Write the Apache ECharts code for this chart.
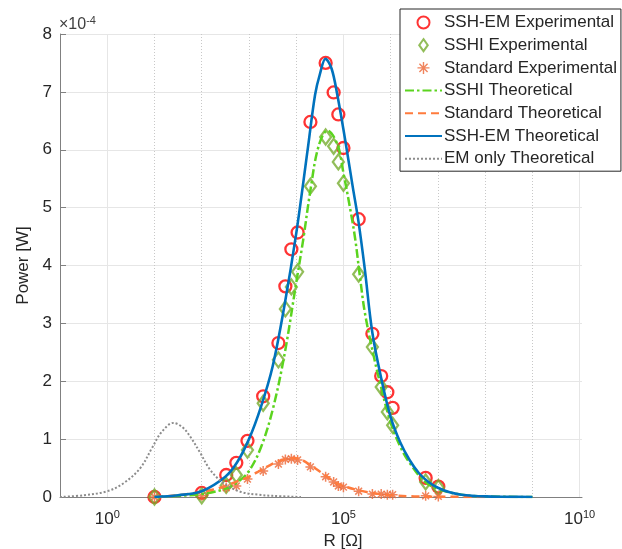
<!DOCTYPE html>
<html><head><meta charset="utf-8">
<script src="https://cdn.jsdelivr.net/npm/echarts@6/dist/echarts.min.js"></script>
<style>html,body{margin:0;padding:0;background:#fff}#c{width:622px;height:549px}</style>
</head><body><div id="c"></div>
<script>
// Power values are in units of 1e-4 W (axis shows ×10^-4)
const rExp = [1.0e1, 1.0e2, 3.3e2, 5.4e2, 9.3e2, 2.0e3, 4.2e3, 5.9e3, 7.9e3, 1.07e4, 2.0e4, 4.2e4, 6.2e4, 7.8e4, 1.0e5, 2.1e5, 4.1e5, 6.3e5, 8.5e5, 1.1e6, 5.5e6, 1.02e7];
const pSshEmExp = [0.00, 0.07, 0.38, 0.59, 0.97, 1.74, 2.66, 3.64, 4.28, 4.57, 6.48, 7.50, 6.99, 6.61, 6.03, 4.80, 2.82, 2.09, 1.81, 1.54, 0.33, 0.18];
const pSshiExp = [0.00, 0.02, 0.20, 0.38, 0.81, 1.62, 2.37, 3.25, 3.63, 3.89, 5.37, 6.22, 6.06, 5.79, 5.42, 3.85, 2.59, 1.90, 1.47, 1.24, 0.26, 0.16];
const pStdExp = [0.00, 0.02, 0.16, 0.19, 0.31, 0.45, 0.57, 0.65, 0.66, 0.64, 0.52, 0.35, 0.26, 0.19, 0.17, 0.10, 0.05, 0.05, 0.04, 0.04, 0.02, 0.01];

const rSshiTh = [1e1, 3.16e1, 1e2, 3.16e2, 5.62e2, 1e3, 1.78e3, 3.16e3, 5.62e3, 1e4, 1.41e4, 2.0e4, 2.95e4, 4.57e4, 7.41e4, 1e5, 1.41e5, 1.78e5, 2.24e5, 2.82e5, 4.07e5, 6.03e5, 1e6, 1.58e6, 2.29e6, 4.9e6, 1e7, 3.16e7, 1e8, 1e9];
const pSshiTh = [0.00, 0.02, 0.05, 0.14, 0.25, 0.45, 0.85, 1.50, 2.45, 3.70, 4.45, 5.30, 6.05, 6.33, 6.10, 5.60, 4.95, 4.45, 3.80, 3.20, 2.55, 1.95, 1.28, 0.88, 0.64, 0.29, 0.14, 0.04, 0.01, 0.00];

const rStdTh = [1e1, 3.16e1, 1e2, 1.78e2, 3.16e2, 5.62e2, 1e3, 1.58e3, 2.51e3, 3.98e3, 6.31e3, 1e4, 1.41e4, 2.0e4, 3.16e4, 4.57e4, 6.31e4, 1e5, 2.24e5, 5.01e5, 1e6, 3.16e6, 1e7, 1e8];
const pStdTh = [0.00, 0.03, 0.09, 0.13, 0.19, 0.27, 0.35, 0.44, 0.53, 0.61, 0.66, 0.67, 0.63, 0.55, 0.44, 0.35, 0.26, 0.19, 0.11, 0.06, 0.03, 0.01, 0.005, 0.00];

const rSshEmTh = [1e1, 3.16e1, 1e2, 3.16e2, 5.62e2, 1e3, 1.78e3, 3.16e3, 5.62e3, 1e4, 1.78e4, 2.51e4, 3.16e4, 4.17e4, 5.62e4, 7.41e4, 1e5, 1.26e5, 1.58e5, 2.09e5, 2.82e5, 4.07e5, 6.31e5, 1e6, 1.58e6, 2.51e6, 3.98e6, 6.31e6, 1e7, 1.78e7, 3.16e7, 1e8, 3.16e8, 1e9];
const pSshEmTh = [0.00, 0.03, 0.10, 0.35, 0.60, 1.00, 1.55, 2.25, 3.30, 4.55, 6.05, 6.95, 7.30, 7.57, 7.40, 6.95, 6.35, 5.85, 5.35, 4.75, 3.95, 2.85, 2.05, 1.38, 0.95, 0.64, 0.41, 0.26, 0.16, 0.08, 0.04, 0.01, 0.003, 0.00];

const rEmTh = [1e-1, 3.16e-1, 1e0, 2.24e0, 5.01e0, 8.91e0, 1.41e1, 2.51e1, 3.98e1, 5.75e1, 9.33e1, 1.51e2, 2.88e2, 6.61e2, 1.58e3, 3.16e3, 1.26e4];
const pEmTh = [0.00, 0.03, 0.10, 0.24, 0.50, 0.85, 1.12, 1.28, 1.20, 1.04, 0.76, 0.47, 0.24, 0.09, 0.04, 0.02, 0.00];

const xMajorTicks = [1e0, 1e5, 1e10];
const xMinorGrid = [1e1, 1e2, 1e3, 1e4, 1e6, 1e7, 1e8, 1e9];

const F = '"Liberation Sans", Arial, Helvetica, sans-serif';
const TXT = '#262626';
const AX = '#808080';
const pair = (xs, ys) => xs.map((x, i) => [x, ys[i]]);
const star = 'path://M5 0L5 10M0 5L10 5M1.6 1.6L8.4 8.4M8.4 1.6L1.6 8.4';
const diamond = 'path://M5 0L10 7L5 14L0 7Z';
const T = 'rgba(0,0,0,0)';
const SM = 0.35;

const chart = echarts.init(document.getElementById('c'), null, {renderer: 'canvas'});
chart.setOption({
  animation: false,
  backgroundColor: '#fff',
  textStyle: {fontFamily: F},
  grid: {left: 60, right: 40, top: 34, bottom: 52, containLabel: false, outerBoundsMode: 'none'},
  graphic: [{
    type: 'text', left: 59, top: 15,
    style: {text: '×10{s|-4}', fontFamily: F, fontSize: 16, fill: '#404040',
      rich: {s: {fontSize: 11, fontFamily: F, fill: '#404040', padding: [0, 0, 9, 0]}}}
  }],
  legend: {
    orient: 'vertical', left: 400, top: 9, padding: [5, 4, 4, 4],
    itemWidth: 37, itemHeight: 12, itemGap: 5.7, symbolKeepAspect: true,
    borderColor: '#262626', borderWidth: 1, backgroundColor: '#fff',
    textStyle: {fontSize: 17, color: TXT, fontFamily: F, padding: [0, 0, 0, -3]},
    data: [
      {name: 'SSH-EM Experimental'},
      {name: 'SSHI Experimental'},
      {name: 'Standard Experimental', itemStyle: {borderWidth: 1.4}},
      {name: 'SSHI Theoretical', itemStyle: {opacity: 0}},
      {name: 'Standard Theoretical', itemStyle: {opacity: 0}},
      {name: 'SSH-EM Theoretical', itemStyle: {opacity: 0}},
      {name: 'EM only Theoretical', itemStyle: {opacity: 0}}
    ]
  },
  xAxis: {
    type: 'log', logBase: 10, min: 0.1, max: 1.122e10,
    name: 'R [Ω]', nameLocation: 'middle', nameGap: 32,
    nameTextStyle: {fontSize: 17, color: TXT, fontFamily: F, padding: [0, 0, 0, 44]},
    axisLine: {show: true, lineStyle: {color: AX}},
    axisTick: {show: true, inside: true, length: 6, customValues: xMajorTicks, lineStyle: {color: AX}},
    axisLabel: {
      customValues: xMajorTicks, margin: 12, color: TXT, fontSize: 17, fontFamily: F,
      formatter: v => {
        const e = Math.round(Math.log10(v));
        if (e % 5 !== 0) return '';
        return '{b|10}{s|' + e + '}';
      },
      rich: {b: {fontSize: 17, color: TXT, fontFamily: F}, s: {fontSize: 11, color: TXT, fontFamily: F, padding: [0, 0, 9, 0]}}
    },
    splitLine: {show: false}
  },
  yAxis: {
    type: 'value', min: 0, max: 8, interval: 1,
    name: 'Power [W]', nameLocation: 'middle', nameGap: 28, nameRotate: 90,
    nameTextStyle: {fontSize: 17, color: TXT, fontFamily: F},
    axisLine: {show: true, lineStyle: {color: AX}},
    axisTick: {show: true, inside: true, length: 6, lineStyle: {color: AX}},
    axisLabel: {color: TXT, fontSize: 17, fontFamily: F, margin: 8, formatter: v => String(Math.round(v))},
    splitLine: {show: true, lineStyle: {color: '#e6e6e6', width: 1}}
  },
  series: [
    {
      name: 'SSH-EM Experimental', type: 'scatter', data: pair(rExp, pSshEmExp),
      symbol: 'circle', symbolSize: 12, z: 3,
      itemStyle: {color: T, borderColor: '#ff0000', borderWidth: 2.3},
      markLine: {
        silent: true, symbol: 'none', z: 1, animation: false,
        label: {show: false},
        data: xMinorGrid.map(v => ({xAxis: v, lineStyle: {color: '#c8c8c8', type: [1, 2], width: 1}}))
          .concat(xMajorTicks.map(v => ({xAxis: v, lineStyle: {color: '#e6e6e6', type: 'solid', width: 1}})))
      }
    },
    {
      name: 'SSHI Experimental', type: 'scatter', data: pair(rExp, pSshiExp),
      symbol: diamond, symbolSize: [11, 15], z: 3,
      itemStyle: {color: T, borderColor: '#77ac30', borderWidth: 2.3}
    },
    {
      name: 'Standard Experimental', type: 'scatter', data: pair(rExp, pStdExp),
      symbol: star, symbolSize: 10, z: 3,
      itemStyle: {color: T, borderColor: '#ec6535', borderWidth: 1.5}
    },
    {
      name: 'SSHI Theoretical', type: 'line', data: pair(rSshiTh, pSshiTh),
      symbol: 'none', smooth: SM, z: 4,
      itemStyle: {color: '#5bd41e'},
      lineStyle: {color: '#5bd41e', width: 2.5, type: [9, 3, 2.5, 3]}
    },
    {
      name: 'Standard Theoretical', type: 'line', data: pair(rStdTh, pStdTh),
      symbol: 'none', smooth: SM, z: 4,
      itemStyle: {color: '#ff7b3d'},
      lineStyle: {color: '#ff7b3d', width: 2.5, type: [8, 5]}
    },
    {
      name: 'SSH-EM Theoretical', type: 'line', data: pair(rSshEmTh, pSshEmTh),
      symbol: 'none', smooth: SM, z: 4,
      itemStyle: {color: '#0072bd'},
      lineStyle: {color: '#0072bd', width: 2.6}
    },
    {
      name: 'EM only Theoretical', type: 'line', data: pair(rEmTh, pEmTh),
      symbol: 'none', smooth: SM, z: 4,
      itemStyle: {color: '#8c8c8c'},
      lineStyle: {color: '#8c8c8c', width: 2, type: [2, 2]}
    }
  ]
});
</script>
</body></html>
